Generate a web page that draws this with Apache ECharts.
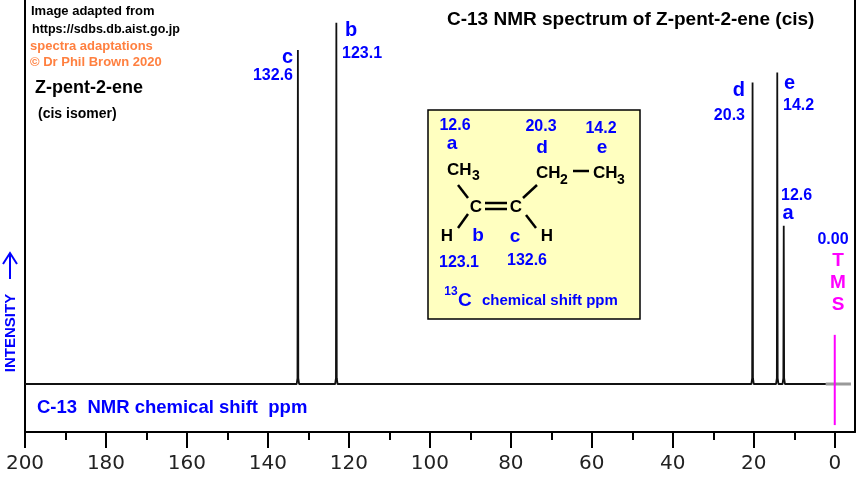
<!DOCTYPE html>
<html><head><meta charset="utf-8">
<script src="https://cdn.jsdelivr.net/npm/echarts@6/dist/echarts.min.js"></script>
<style>html,body{margin:0;padding:0;background:#fff}#c{width:860px;height:478px}</style>
</head><body><div id="c"></div>
<script>
// ---- data ----
const peakPpm = [132.6, 123.1, 20.3, 14.2, 12.6];
const peakHeight = [87, 94.1, 78.5, 81.1, 41.2];
const peakLetter = ['c', 'b', 'd', 'e', 'a'];
const majorTicks = [0, 20, 40, 60, 80, 100, 120, 140, 160, 180, 200];
const minorTicks = [10, 30, 50, 70, 90, 110, 130, 150, 170, 190];
const tmsPpm = 0;
const tmsRange = [12.8, -10.7];

const F = "'Liberation Sans', Arial, sans-serif";
const BLUE = '#0000ff';

// spectrum trace built from peak list
const spec = [[200, 0]];
peakPpm.map((p, i) => [p, peakHeight[i]]).sort((a, b) => b[0] - a[0]).forEach(([p, h]) => {
  spec.push([p + 0.3, 0], [p + 0.1, 1.5], [p, h], [p - 0.1, 1.5], [p - 0.3, 0]);
});
spec.push([2.2, 0]);

const chart = echarts.init(document.getElementById('c'));

function T(x, y, text, size, color, align, extra) {
  return Object.assign({
    type: 'text', x: x, y: y,
    style: { text: text, font: 'bold ' + size + 'px ' + F, fill: color, textAlign: align || 'left', textVerticalAlign: 'middle' }
  }, extra || {});
}
function L(x1, y1, x2, y2, color, w) {
  return { type: 'line', shape: { x1, y1, x2, y2 }, style: { stroke: color || '#000', lineWidth: w || 2.5 } };
}

const graphic = [
  // header texts
  T(31, 11, 'Image adapted from', 13, '#000'),
  T(32, 30, 'https://sdbs.db.aist.go.jp', 12.5, '#000'),
  T(30, 46, 'spectra adaptations', 13, '#ff8040'),
  T(30, 62, '\u00a9 Dr Phil Brown 2020', 13, '#ff8040'),
  T(35, 88, 'Z-pent-2-ene', 18, '#000'),
  T(38, 114, '(cis isomer)', 14, '#000'),
  T(447, 20, 'C-13 NMR spectrum of Z-pent-2-ene (cis)', 19, '#000', 'left'),
  // x axis title inside frame
  T(37, 408, 'C-13  NMR chemical shift  ppm', 18.5, BLUE),
  // intensity
  T(11, 333, 'INTENSITY', 15, BLUE, 'center', { rotation: Math.PI / 2 }),
  L(10, 279, 10, 253, BLUE, 2),
  { type: 'polyline', shape: { points: [[3, 264], [10, 253], [17, 264]] }, style: { stroke: BLUE, lineWidth: 2, fill: null } },
  // peak labels
  T(293, 57, 'c', 20, BLUE, 'right'),
  T(293, 76, '132.6', 16, BLUE, 'right'),
  T(345, 30, 'b', 20, BLUE),
  T(342, 54, '123.1', 16, BLUE),
  T(745, 90, 'd', 20, BLUE, 'right'),
  T(745, 116, '20.3', 16, BLUE, 'right'),
  T(784, 83, 'e', 20, BLUE),
  T(783, 106, '14.2', 16, BLUE),
  T(781, 196, '12.6', 16, BLUE),
  T(788, 213, 'a', 20, BLUE, 'center'),
  T(833, 240, '0.00', 16, BLUE, 'center'),
  T(838, 261, 'T', 19, '#ff00ff', 'center'),
  T(838, 283, 'M', 19, '#ff00ff', 'center'),
  T(838, 305, 'S', 19, '#ff00ff', 'center'),
  // structure box
  { type: 'rect', shape: { x: 428, y: 110, width: 212, height: 209 }, style: { fill: '#ffffc0', stroke: '#000', lineWidth: 1.5 } },
  T(455, 126, '12.6', 16, BLUE, 'center'),
  T(452, 144, 'a', 19, BLUE, 'center'),
  T(541, 127, '20.3', 16, BLUE, 'center'),
  T(542, 148, 'd', 19, BLUE, 'center'),
  T(601, 129, '14.2', 16, BLUE, 'center'),
  T(602, 148, 'e', 19, BLUE, 'center'),
  T(447, 170, 'CH', 17, '#000'),
  T(472, 176, '3', 14, '#000'),
  T(536, 173, 'CH', 17, '#000'),
  T(560, 180, '2', 14, '#000'),
  L(573, 171, 589, 171, '#000', 2.5),
  T(593, 173, 'CH', 17, '#000'),
  T(617, 180, '3', 14, '#000'),
  L(458, 185, 468, 198),
  T(476, 207, 'C', 17, '#000', 'center'),
  L(485, 203, 507, 203),
  L(485, 209, 507, 209),
  T(516, 207, 'C', 17, '#000', 'center'),
  L(523, 198, 537, 185),
  L(468, 214, 458, 228),
  L(526, 215, 536, 228),
  T(447, 236, 'H', 17, '#000', 'center'),
  T(547, 236, 'H', 17, '#000', 'center'),
  T(478, 236, 'b', 19, BLUE, 'center'),
  T(515, 237, 'c', 19, BLUE, 'center'),
  T(459, 263, '123.1', 16, BLUE, 'center'),
  T(527, 261, '132.6', 16, BLUE, 'center'),
  T(451, 292, '13', 12, BLUE, 'center'),
  T(458, 301, 'C', 19, BLUE, 'left'),
  T(482, 301, 'chemical shift ppm', 15, BLUE)
];

chart.setOption({
  animation: false,
  grid: { left: 25, right: 5, top: 0, bottom: 46 },
  xAxis: [
    {
      type: 'value', min: -5, max: 200, inverse: true, position: 'bottom',
      axisLine: { show: true, onZero: false, lineStyle: { color: '#000', width: 2 } },
      axisTick: { show: true, length: 16, lineStyle: { color: '#000', width: 2 }, customValues: majorTicks },
      axisLabel: { show: true, margin: 22, fontSize: 20, fontFamily: "'DejaVu Sans', Verdana, sans-serif", color: '#222', customValues: majorTicks },
      splitLine: { show: false }
    },
    {
      type: 'value', min: -5, max: 200, inverse: true, position: 'bottom', offset: 0,
      axisLine: { show: false, onZero: false },
      axisTick: { show: true, length: 8, lineStyle: { color: '#000', width: 2 }, customValues: minorTicks },
      axisLabel: { show: false },
      splitLine: { show: false }
    }
  ],
  yAxis: [
    { type: 'value', min: -12.5, max: 100, position: 'left',
      axisLine: { show: true, onZero: false, lineStyle: { color: '#000', width: 2 } },
      axisTick: { show: false }, axisLabel: { show: false }, splitLine: { show: false } },
    { type: 'value', min: -12.5, max: 100, position: 'right',
      axisLine: { show: true, onZero: false, lineStyle: { color: '#000', width: 2 } },
      axisTick: { show: false }, axisLabel: { show: false }, splitLine: { show: false } }
  ],
  series: [
    { type: 'line', xAxisIndex: 0, yAxisIndex: 0, data: spec, showSymbol: false, symbol: 'none',
      lineStyle: { color: '#111', width: 1.8 } },
    { type: 'line', xAxisIndex: 0, yAxisIndex: 0, data: [[2.2, 0], [-4, 0]], symbol: 'none',
      lineStyle: { color: '#999', width: 3 } },
    { type: 'line', xAxisIndex: 0, yAxisIndex: 0, data: [[tmsPpm, tmsRange[0]], [tmsPpm, tmsRange[1]]], symbol: 'none',
      lineStyle: { color: '#ff00ff', width: 2 } }
  ],
  graphic: graphic
});
</script></body></html>
